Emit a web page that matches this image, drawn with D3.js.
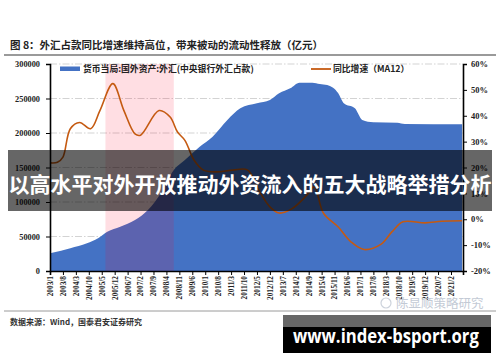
<!DOCTYPE html>
<html><head><meta charset="utf-8">
<script src="https://cdn.jsdelivr.net/npm/d3@7"></script>
<style>body{margin:0;background:#fff}svg{display:block}</style>
</head><body>
<svg id="c" width="500" height="362"></svg>
<script>
// ---- data ----
const tickLabels = ["2003/1","2003/8","2004/3","2004/10","2005/5","2005/12","2006/7","2007/2","2007/9","2008/4","2008/11","2009/6","2010/1","2010/8","2011/3","2011/10","2012/5","2012/12","2013/7","2014/2","2014/9","2015/4","2015/11","2016/6","2017/1","2017/8","2018/3","2018/10","2019/5","2019/12","2020/7","2021/2"];
const areaDates = ["2003/1","2003/7","2003/12","2004/9","2005/3","2005/8","2006/3","2006/11","2007/6","2008/1","2008/8","2009/2","2009/10","2010/5","2011/1","2011/8","2012/5","2012/12","2013/5","2013/11","2014/4","2014/11","2015/3","2015/7","2016/1","2016/4","2016/10","2017/2","2017/8","2018/9","2019/1","2021/8"];
const areaValues = [25600,29400,32900,40100,47400,57000,64200,73900,88400,112600,146300,160800,180100,194600,218800,235700,243000,247800,257500,264700,272900,272900,271000,269500,257500,243000,235700,218800,215500,214900,213000,212600];
const lineDates = ["2003/1","2003/5","2003/8","2003/12","2004/5","2004/11","2005/4","2005/11","2006/5","2006/11","2007/2","2007/12","2008/6","2008/10","2009/2","2009/7","2009/12","2010/7","2011/4","2011/12","2012/6","2012/12","2013/5","2013/12","2014/8","2014/12","2015/5","2016/1","2016/8","2017/3","2017/12","2018/6","2018/12","2019/12","2020/9","2021/8"];
const lineValues = [21.8,22,24,35,37.4,35,42,52.4,42,33,32.5,42,39.5,33.7,30.5,22.8,19,18.3,19,19,11.2,4.8,2.4,4.1,9.3,12.5,2.3,-3,-8.8,-11.7,-9.7,-4.9,-1,-1.4,-0.8,-0.6];
const shadeRange = ["2005/7","2008/8"];
const leftTicks = [0,50000,100000,150000,200000,250000,300000];
const rightTicks = [-20,-10,0,10,20,30,40,50,60];
const title = "图 8：外汇占款同比增速维持高位，带来被动的流动性释放（亿元）";
const legend1 = "货币当局:国外资产:外汇(中央银行外汇占款)";
const legend2 = "同比增速（MA12）";
const source = "数据来源：Wind，国泰君安证券研究";
const banner = "以高水平对外开放推动外资流入的五大战略举措分析";
const site = "www.index-bsport.org";
const mark = "陈显顺策略研究";

// ---- helpers ----
const mIdx = s => { const [y,m] = s.split("/").map(Number); return (y-2003)*12 + (m-1); };
const svg = d3.select("#c");
const L = 50, R = 463, T = 64, B = 271;
const x = d3.scaleLinear().domain([0, 223.5]).range([L, R]);
const yL = d3.scaleLinear().domain([0, 300000]).range([B, T]);
const yR = d3.scaleLinear().domain([-20, 60]).range([B, T]);
const serif = "'Liberation Serif','Noto Sans CJK SC',serif";
const cjk = "'Noto Sans CJK SC','Liberation Serif',sans-serif";

// title & rules
svg.append("text").attr("x",10).attr("y",49).attr("font-family",cjk).attr("font-weight",700)
  .attr("font-size",10.5).attr("fill","#222").text(title);
svg.append("line").attr("x1",4).attr("x2",496).attr("y1",55).attr("y2",55).attr("stroke","#9a9a9a").attr("stroke-width",1.8);
svg.append("line").attr("x1",4).attr("x2",496).attr("y1",311).attr("y2",311).attr("stroke","#9a9a9a").attr("stroke-width",1);

// gridlines
svg.append("g").selectAll("line").data(leftTicks.filter(d=>d>0)).join("line")
  .attr("x1",L).attr("x2",R).attr("y1",d=>yL(d)).attr("y2",d=>yL(d))
  .attr("stroke","#c8c8c8").attr("stroke-width",0.8).attr("stroke-dasharray","7,2,1.5,2");

// area
const ad = areaDates.map((d,i)=>({m:mIdx(d), v:areaValues[i]}));
svg.append("path").datum(ad)
  .attr("d", d3.area().x(d=>x(d.m)).y0(B).y1(d=>yL(d.v)).curve(d3.curveMonotoneX))
  .attr("fill","#4472C4");

// shaded band
svg.append("rect").attr("x",x(mIdx(shadeRange[0]))).attr("y",T)
  .attr("width",x(mIdx(shadeRange[1]))-x(mIdx(shadeRange[0]))).attr("height",B-T)
  .attr("fill","rgba(255,0,40,0.13)");

// line
const ld = lineDates.map((d,i)=>({m:mIdx(d), v:lineValues[i]}));
svg.append("path").datum(ld)
  .attr("d", d3.line().x(d=>x(d.m)).y(d=>yR(d.v)).curve(d3.curveCatmullRom.alpha(0.5)))
  .attr("fill","none").attr("stroke","#C55A11").attr("stroke-width",1.6);

// axes
const gL = svg.append("g").attr("transform",`translate(${L},0)`)
  .call(d3.axisLeft(yL).tickValues(leftTicks).tickSize(4).tickFormat(d3.format("d")));
const gR = svg.append("g").attr("transform",`translate(${R},0)`)
  .call(d3.axisRight(yR).tickValues(rightTicks).tickSize(4).tickFormat(d=>d+"%"));
const tickM = tickLabels.map(mIdx);
const gB = svg.append("g").attr("transform",`translate(0,${B})`)
  .call(d3.axisBottom(x).tickValues(tickM).tickSize(4).tickFormat((d,i)=>tickLabels[i]));
[gL,gR,gB].forEach(g=>{
  g.select(".domain").attr("stroke","#000").attr("stroke-width",1.6);
  g.selectAll(".tick line").attr("stroke","#000").attr("stroke-width",1);
  g.selectAll("text").attr("font-family",serif).attr("font-weight",700).attr("fill","#222");
});
gL.selectAll("text").attr("font-size",8.3).attr("x",-10);
gR.selectAll("text").attr("font-size",8.5).attr("x",8);
gB.selectAll("text").attr("font-size",7.3).attr("transform","rotate(-90)")
  .attr("text-anchor","end").attr("x",-5).attr("y",0).attr("dy","0.33em");

// legend
svg.append("rect").attr("x",60).attr("y",66.5).attr("width",20).attr("height",4.5).attr("fill","#4472C4");
svg.append("text").attr("x",83).attr("y",72).attr("font-family",cjk).attr("font-weight",700)
  .attr("font-size",8.8).attr("fill","#222").text(legend1);
svg.append("line").attr("x1",311).attr("x2",331).attr("y1",69).attr("y2",69).attr("stroke","#C55A11").attr("stroke-width",1.8);
svg.append("text").attr("x",333).attr("y",72).attr("font-family",cjk).attr("font-weight",700)
  .attr("font-size",8.8).attr("fill","#222").text(legend2);

// source
svg.append("text").attr("x",10).attr("y",324.5).attr("font-family",cjk).attr("font-weight",700)
  .attr("font-size",8).attr("fill","#333").text(source);

// faded mark
svg.append("circle").attr("cx",386).attr("cy",303).attr("r",5).attr("fill","none").attr("stroke","#cdd3dc").attr("stroke-width",1.2);
svg.append("text").attr("x",396).attr("y",307.5).attr("font-family",cjk).attr("font-size",12.5)
  .attr("fill","#c3cad5").text(mark);

// banner overlay
svg.append("rect").attr("x",8).attr("y",150).attr("width",484).attr("height",61).attr("fill","rgba(0,0,0,0.6)");
svg.append("text").attr("x",250).attr("y",192).attr("text-anchor","middle").attr("font-family",cjk)
  .attr("font-weight",700).attr("font-size",21).attr("fill","#fff").text(banner);

// site box
svg.append("rect").attr("x",283).attr("y",315).attr("width",208).attr("height",38).attr("fill","#000");
svg.append("rect").attr("x",283).attr("y",315).attr("width",208).attr("height",12).attr("fill","#666");
const st = svg.append("text").attr("x",0).attr("y",0).attr("font-family","'Open Sans','DejaVu Sans',sans-serif")
  .attr("font-weight",700).attr("font-size",19).attr("fill","#fff").text(site);
const w = st.node().getComputedTextLength();
const sx = Math.min(1, 186 / w);
st.attr("transform",`translate(293,343) scale(${sx},1)`);
</script>
</body></html>
